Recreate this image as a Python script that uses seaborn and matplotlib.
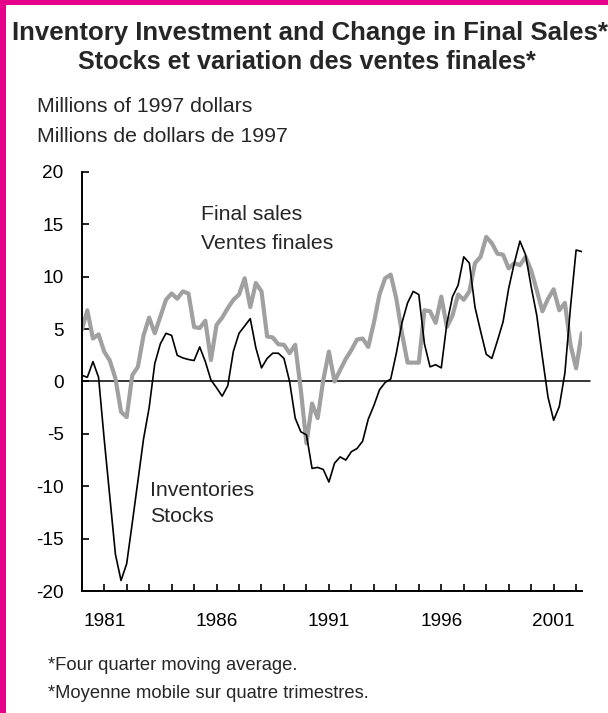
import numpy as np
import pandas as pd
import matplotlib
matplotlib.use("Agg")
import matplotlib.pyplot as plt
from matplotlib.patches import Rectangle
import seaborn as sns

# Donnees trimestrielles (moyenne mobile sur quatre trimestres)
ventes_finales = [4.9, 6.8, 4.1, 4.5, 2.85, 2.0, 0.3, -2.9, -3.4, 0.6,
                  1.4, 4.4, 6.1, 4.6, 6.2, 7.8, 8.4, 7.9, 8.6, 8.4,
                  5.2, 5.1, 5.8, 2.05, 5.4, 6.1, 7.0, 7.8, 8.3, 9.85,
                  7.1, 9.4, 8.6, 4.3, 4.2, 3.55, 3.5, 2.7, 3.5, -0.8,
                  -5.9, -2.1, -3.5, 0.15, 2.85, 0.0, 1.1, 2.15, 3.0, 4.0,
                  4.1, 3.3, 5.6, 8.3, 9.85, 10.2, 7.9, 4.6, 1.8, 1.8,
                  1.8, 6.8, 6.7, 5.6, 8.1, 5.2, 6.3, 8.3, 7.8, 8.6,
                  11.3, 11.9, 13.8, 13.2, 12.2, 12.1, 10.8, 11.3, 11.1, 11.9,
                  10.6, 8.7, 6.7, 7.9, 8.8, 6.8, 7.5, 3.5, 1.26, 4.6]

stocks = [0.6, 0.4, 1.9, 0.4, -5.5, -11.0, -16.5, -19.0, -17.4, -13.5,
          -9.5, -5.5, -2.5, 1.7, 3.6, 4.6, 4.4, 2.5, 2.25, 2.1,
          2.0, 3.3, 1.9, 0.14, -0.6, -1.4, -0.4, 2.9, 4.6, 5.3,
          6.0, 3.2, 1.3, 2.2, 2.7, 2.7, 2.2, 0.0, -3.5, -4.8,
          -5.1, -8.3, -8.2, -8.4, -9.6, -7.8, -7.2, -7.5, -6.7, -6.4,
          -5.7, -3.6, -2.3, -0.8, -0.1, 0.24, 2.7, 5.6, 7.5, 8.6,
          8.3, 3.6, 1.4, 1.6, 1.3, 5.56, 8.1, 9.2, 11.9, 11.3,
          7.1, 4.8, 2.6, 2.2, 3.9, 5.7, 8.9, 11.3, 13.4, 12.1,
          9.05, 6.3, 2.3, -1.5, -3.7, -2.4, 0.8, 7.1, 12.55, 12.4]

annee = 1980 + np.arange(len(stocks)) / 4
annees_etiquettes = [1981, 1986, 1991, 1996, 2001]

df = pd.DataFrame({"annee": annee, "ventes": ventes_finales, "stocks": stocks})

sns.set_style("white")
plt.rcParams["font.family"] = ["Liberation Sans", "DejaVu Sans"]
plt.rcParams["axes.unicode_minus"] = False

fig = plt.figure(figsize=(6.08, 7.13), dpi=100)
ax = fig.add_axes([0.1344, 0.1711, 0.8224, 0.5877])

# ligne du zero
ax.axhline(0, xmin=0, xmax=1.017, color="black", lw=1.1, clip_on=False, zorder=1)

sns.lineplot(data=df, x="annee", y="ventes", ax=ax, color="#A0A0A0", lw=3.0, zorder=2)
sns.lineplot(data=df, x="annee", y="stocks", ax=ax, color="black", lw=1.2, zorder=3)

ax.set_xlim(annee[0], annee[-1])
ax.set_ylim(-20, 20)
ax.set_yticks(range(-20, 21, 5))
ax.set_xticks(annees_etiquettes)
ax.set_xticklabels([str(a) for a in annees_etiquettes])
ax.set_xticks(range(1981, 2003), minor=True)
ax.set_xlabel("")
ax.set_ylabel("")

for s in ["top", "right"]:
    ax.spines[s].set_visible(False)
for s in ["left", "bottom"]:
    ax.spines[s].set_color("black")
    ax.spines[s].set_linewidth(1.4)

ax.tick_params(axis="y", left=True, direction="in", length=5, width=1.2, pad=13,
               labelsize=13.7, colors="black")
ax.tick_params(axis="x", which="both", bottom=True, direction="in", length=5,
               width=1.2, pad=16, labelsize=13.7, colors="black")

# etiquettes des series
ax.text(1985.3, 15.9, "Final sales", fontsize=15.3, va="center")
ax.text(1985.3, 13.2, "Ventes finales", fontsize=15.3, va="center")
ax.text(1983.05, -10.4, "Inventories", fontsize=15.3, va="center")
ax.text(1983.05, -12.9, "Stocks", fontsize=15.3, va="center")

# titres et notes
fig.text(0.51, 1 - 33 / 713, "Inventory Investment and Change in Final Sales*",
         ha="center", va="center", fontsize=18.5, fontweight="bold")
fig.text(0.505, 1 - 62 / 713, "Stocks et variation des ventes finales*",
         ha="center", va="center", fontsize=18.2, fontweight="bold")
fig.text(37 / 608, 1 - 107 / 713, "Millions of 1997 dollars",
         ha="left", va="center", fontsize=15.3)
fig.text(37 / 608, 1 - 137 / 713, "Millions de dollars de 1997",
         ha="left", va="center", fontsize=15.3)
fig.text(48 / 608, 1 - 665 / 713, "*Four quarter moving average.",
         ha="left", va="center", fontsize=13.2)
fig.text(48 / 608, 1 - 693 / 713, "*Moyenne mobile sur quatre trimestres.",
         ha="left", va="center", fontsize=13.2)

# cadre magenta
rose = "#E5008A"
fig.add_artist(Rectangle((0, 0), 6 / 608, 1, transform=fig.transFigure,
                         color=rose, lw=0))
fig.add_artist(Rectangle((0, 1 - 5 / 713), 1, 5 / 713, transform=fig.transFigure,
                         color=rose, lw=0))

fig.savefig("out.png", dpi=100)
